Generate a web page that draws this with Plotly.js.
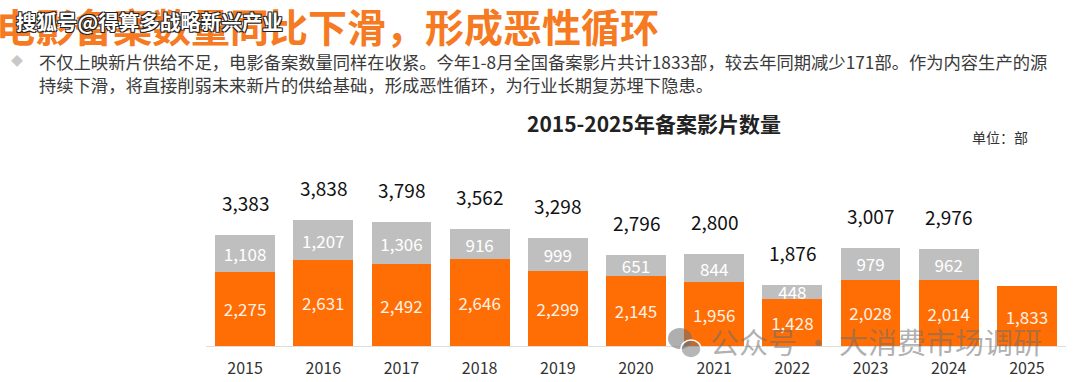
<!DOCTYPE html>
<html>
<head>
<meta charset="utf-8">
<script src="https://cdn.plot.ly/plotly-3.0.1.min.js"></script>
<style>html,body{margin:0;padding:0;background:#fff;overflow:hidden;}#chart{width:1080px;height:382px;}</style>
</head>
<body>
<div id="chart"></div>
<script>
const years = ['2015','2016','2017','2018','2019','2020','2021','2022','2023','2024','2025'];
const released = [2275, 2631, 2492, 2646, 2299, 2145, 1956, 1428, 2028, 2014, 1833];
const notReleased = [1108, 1207, 1306, 916, 999, 651, 844, 448, 979, 962, null];
const totals = [3383, 3838, 3798, 3562, 3298, 2796, 2800, 1876, 3007, 2976, null];

const pageTitle = '电影备案数量同比下滑，形成恶性循环';
const bodyLine1 = '不仅上映新片供给不足，电影备案数量同样在收紧。今年1-8月全国备案影片共计1833部，较去年同期减少171部。作为内容生产的源';
const bodyLine2 = '持续下滑，将直接削弱未来新片的供给基础，形成恶性循环，为行业长期复苏埋下隐患。';
const chartTitle = '2015-2025年备案影片数量';
const unitLabel = '单位：部';
const sourceMark = '搜狐号@得算多战略新兴产业';
const wechatMark = '公众号 · 大消费市场调研';

const FONT = '"Noto Sans CJK SC", "Noto Sans", sans-serif';
const ORANGE = '#FF6D05';
const GRAY = '#BFBFBF';

const traces = [
  {
    type: 'bar', x: years, y: released, name: '上映',
    marker: {color: ORANGE},
    texttemplate: '%{y:,}', textposition: 'inside', insidetextanchor: 'middle',
    textfont: {family: FONT, size: 17, color: '#FFF1E4'},
    constraintext: 'none', hoverinfo: 'x+y'
  },
  {
    type: 'bar', x: years, y: notReleased, name: '未上映',
    marker: {color: GRAY},
    texttemplate: '%{y:,}', textposition: 'inside', insidetextanchor: 'middle',
    textfont: {family: FONT, size: 17, color: '#FFFFFF'},
    constraintext: 'none', hoverinfo: 'x+y'
  }
];

const annotations = [];
years.forEach((yr, i) => {
  if (totals[i] == null) return;
  annotations.push({
    x: i, y: totals[i], xref: 'x', yref: 'y',
    text: totals[i].toLocaleString('en-US'),
    showarrow: false, yanchor: 'bottom', yshift: 17,
    font: {family: FONT, size: 19, color: '#111111'}
  });
});

annotations.push(
  {xref: 'paper', yref: 'paper', x: -0.006, y: 1.012, xanchor: 'left', yanchor: 'top',
   text: '<b>' + pageTitle + '</b>', showarrow: false,
   font: {family: FONT, size: 39, color: '#F57A22'}},
  {xref: 'paper', yref: 'paper', x: 14/1080, y: 1 - 21/382, xanchor: 'left', yanchor: 'middle',
   text: '<b>' + sourceMark + '</b>', showarrow: false,
   font: {family: FONT, size: 20.5, color: '#FFFFFF',
          shadow: '1px 1px 0 #222, -1px -1px 0 #222, 1px -1px 0 #222, -1px 1px 0 #222'}},
  {xref: 'paper', yref: 'paper', x: 9/1080, y: 1 - 60/382, xanchor: 'left', yanchor: 'middle',
   text: '◆', showarrow: false, font: {family: FONT, size: 12, color: '#C8C8C8'}},
  {xref: 'paper', yref: 'paper', x: 37/1080, y: 1 - 61/382, xanchor: 'left', yanchor: 'middle',
   text: bodyLine1, showarrow: false, font: {family: FONT, size: 17.3, color: '#3A3A3A'}},
  {xref: 'paper', yref: 'paper', x: 37/1080, y: 1 - 84/382, xanchor: 'left', yanchor: 'middle',
   text: bodyLine2, showarrow: false, font: {family: FONT, size: 17.3, color: '#3A3A3A'}},
  {xref: 'paper', yref: 'paper', x: 654/1080, y: 1 - 123/382, xanchor: 'center', yanchor: 'middle',
   text: '<b>' + chartTitle + '</b>', showarrow: false, font: {family: FONT, size: 21, color: '#222222'}},
  {xref: 'paper', yref: 'paper', x: 1000/1080, y: 1 - 137/382, xanchor: 'center', yanchor: 'middle',
   text: unitLabel, showarrow: false, font: {family: FONT, size: 14, color: '#333333'}},
  {xref: 'paper', yref: 'paper', x: 708/1080, y: 1 - 341/382, xanchor: 'left', yanchor: 'middle',
   text: wechatMark, showarrow: false, font: {family: FONT, size: 29, color: 'rgba(110,110,110,0.55)'}}
);

const shapes = [
  {type: 'circle', xref: 'paper', yref: 'paper',
   x0: 668/1080, x1: 692/1080, y0: 1 - 349/382, y1: 1 - 328/382,
   fillcolor: 'rgba(110,110,110,0.55)', line: {width: 0}},
  {type: 'circle', xref: 'paper', yref: 'paper',
   x0: 681/1080, x1: 701/1080, y0: 1 - 358/382, y1: 1 - 340/382,
   fillcolor: 'rgba(110,110,110,0.5)', line: {color: '#ffffff', width: 1.5}}
];

const layout = {
  width: 1080, height: 382,
  margin: {l: 0, r: 0, t: 0, b: 0},
  paper_bgcolor: '#ffffff', plot_bgcolor: '#ffffff',
  barmode: 'stack', bargap: 0.235,
  showlegend: false,
  font: {family: FONT},
  xaxis: {
    type: 'category', domain: [206/1080, 1066/1080], range: [-0.5, 10.5],
    showline: true, linecolor: '#DDDDDD', linewidth: 1,
    showgrid: false, zeroline: false, ticks: '',
    tickfont: {family: FONT, size: 16, color: '#333333'},
    ticklabelstandoff: 8, fixedrange: true
  },
  yaxis: {
    domain: [36/382, (36 + 147.2)/382], range: [0, 4500],
    showgrid: false, zeroline: false, showline: false, showticklabels: false,
    fixedrange: true
  },
  annotations: annotations,
  shapes: shapes
};

Plotly.newPlot('chart', traces, layout, {displayModeBar: false, staticPlot: true});
</script>
</body>
</html>
